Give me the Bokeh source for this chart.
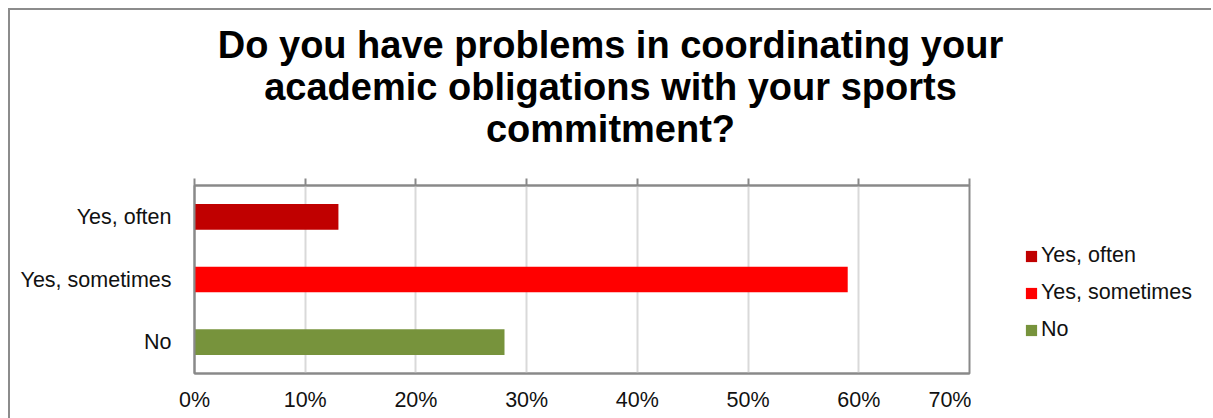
from bokeh.plotting import figure
from bokeh.layouts import column, row
from bokeh.models import (FactorRange, Range1d, FixedTicker, NumeralTickFormatter, LinearAxis,
                          CustomJSTickFormatter, Legend, LegendItem, Div, ColumnDataSource)
from bokeh.embed import file_html
from bokeh.resources import INLINE

# ---- data ----
categories = ["Yes, often", "Yes, sometimes", "No"]
shares = [0.13, 0.59, 0.28]
bar_colors = ["#C00000", "#FF0000", "#77933C"]
x_ticks = [0.0, 0.1, 0.2, 0.3, 0.4, 0.5, 0.6, 0.7]
title_lines = ["Do you have problems in coordinating your",
               "academic obligations with your sports",
               "commitment?"]

FONT = "Liberation Sans"
GRAY = "#898989"
EDGE = "#8c8c8c"
TXT = "#111111"
LBL_SIZE = "21.5px"

src = ColumnDataSource(dict(cat=categories, share=shares, color=bar_colors))

W = 1203          # full content width (including the 2px chart-area edge)
EDGE_W = 2
MAIN_W = 961
H = 243

title_div = Div(
    text=('<div style="box-sizing:border-box; width:%dpx; height:167px; '
          'border-left:2px solid %s; border-top:2px solid %s; padding-top:14px; '
          'text-align:center; font-family:\'Liberation Sans\'; font-weight:bold; '
          'font-size:38px; line-height:42px; color:#000; background:#fff;">' % (W, EDGE, EDGE)
          + "<br>".join(title_lines) + "</div>"),
    width=W, height=167, margin=(0, 0, 0, 0))

edge_div = Div(text="", width=EDGE_W, height=H, margin=(0, 0, 0, 0),
               styles={"background-color": EDGE})

p = figure(width=MAIN_W, height=H,
           y_range=FactorRange(factors=categories[::-1]),
           x_range=Range1d(0, 0.7),
           output_backend="svg", toolbar_location=None, tools="",
           min_border_left=184, min_border_right=2,
           min_border_top=10, min_border_bottom=45, margin=(0, 0, 0, 0))
p.background_fill_color = "white"
p.border_fill_color = "white"
p.outline_line_color = GRAY
p.outline_line_width = 2

r = p.hbar(y="cat", left=0, right="share", height=0.41, color="color", line_color=None, source=src)

# bottom axis (labels only)
xa = p.xaxis[0]
xa.ticker = FixedTicker(ticks=x_ticks)
xa.formatter = NumeralTickFormatter(format="0%")
xa.axis_line_color = GRAY
xa.axis_line_width = 2
xa.major_tick_line_color = None
xa.minor_tick_line_color = None
xa.major_label_standoff = 8
xa.major_label_text_font = FONT
xa.major_label_text_font_size = LBL_SIZE
xa.major_label_text_color = TXT

# top axis (ticks only)
top = LinearAxis(ticker=FixedTicker(ticks=x_ticks),
                 formatter=CustomJSTickFormatter(code="return ''"))
top.axis_line_color = GRAY
top.axis_line_width = 2
top.major_tick_line_color = GRAY
top.major_tick_line_width = 2
top.major_tick_out = 7
top.major_tick_in = 0
top.minor_tick_line_color = None
top.major_label_standoff = 0
top.major_label_text_font_size = "1px"
p.add_layout(top, "above")

ya = p.yaxis[0]
ya.axis_line_color = GRAY
ya.axis_line_width = 2
ya.major_tick_line_color = None
ya.minor_tick_line_color = None
ya.major_label_standoff = 17
ya.major_label_text_font = FONT
ya.major_label_text_font_size = LBL_SIZE
ya.major_label_text_color = TXT

p.xgrid.ticker = FixedTicker(ticks=x_ticks)
p.xgrid.grid_line_color = "#d9d9d9"
p.xgrid.grid_line_width = 2
p.ygrid.grid_line_color = None

# legend panel (separate figure to the right of the plot frame)
lf = figure(width=W - EDGE_W - MAIN_W, height=H,
            y_range=FactorRange(factors=categories[::-1]),
            x_range=Range1d(0, 0.7),
            output_backend="svg", toolbar_location=None, tools="",
            x_axis_type=None, y_axis_type=None,
            min_border_left=0, min_border_right=0, min_border_top=0, min_border_bottom=0,
            margin=(0, 0, 0, 0))
lf.outline_line_color = None
lf.grid.visible = False
lf.background_fill_color = "white"
lf.border_fill_color = "white"
lr = lf.hbar(y="cat", left=0, right="share", height=0.41, color="color", line_color=None,
             source=src, visible=False)

items = [LegendItem(label=c, renderers=[lr], index=i) for i, c in enumerate(categories)]
legend = Legend(items=items, location=(53, 31), orientation="vertical",
                border_line_color=None, background_fill_alpha=0,
                inactive_fill_alpha=0,
                padding=0, margin=0, spacing=12,
                glyph_width=14, glyph_height=14, label_height=24,
                label_standoff=3, label_text_font=FONT,
                label_text_font_size=LBL_SIZE, label_text_color=TXT)
lf.add_layout(legend)

layout = column(title_div, row(edge_div, p, lf, spacing=0, margin=(0, 0, 0, 0)),
                spacing=0, margin=(8, 0, 0, 8))

open("out.html", "w").write(file_html(layout, INLINE))
